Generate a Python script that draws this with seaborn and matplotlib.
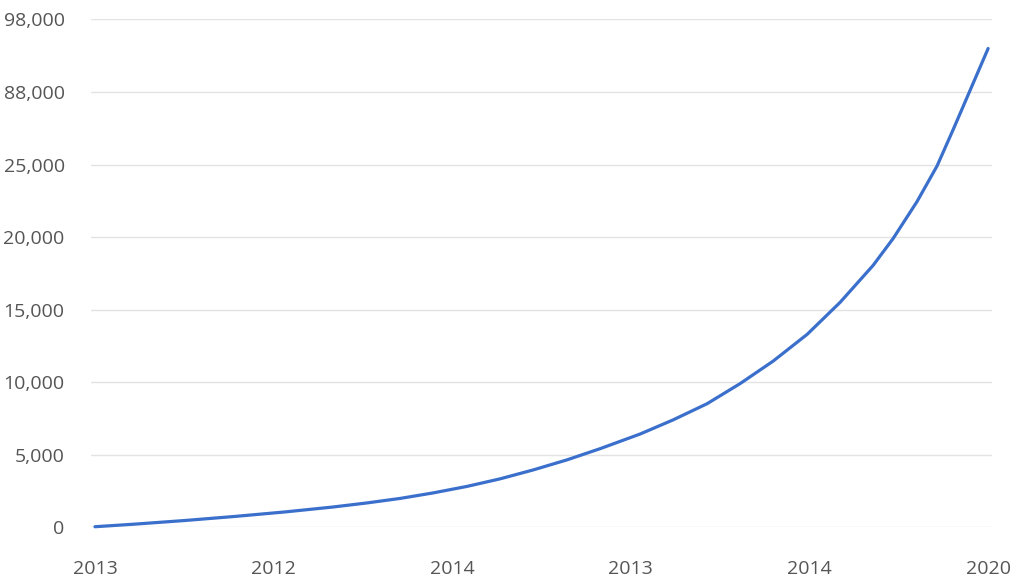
import matplotlib
matplotlib.use("Agg")
import matplotlib.pyplot as plt
import seaborn as sns
import pandas as pd

# values (x in tick units, 0..5)
x_pos = [0.0, 0.224, 0.504, 0.784, 1.064, 1.333, 1.523, 1.708, 1.893, 2.083,
         2.268, 2.452, 2.643, 2.828, 3.052, 3.236, 3.427, 3.611, 3.796, 3.987,
         4.171, 4.356, 4.468, 4.602, 4.714, 4.804, 4.888, 5.0]
values = [40, 220, 470, 750, 1060, 1400, 1680, 1990, 2370, 2820,
          3340, 3950, 4650, 5420, 6430, 7400, 8520, 9900, 11450, 13300,
          15500, 18050, 19900, 22450, 24900, 27400, 29800, 33000]

x_ticks = [0, 1, 2, 3, 4, 5]
x_labels = ['2013', '2012', '2014', '2013', '2014', '2020']
y_ticks = [0, 5000, 10000, 15000, 20000, 25000, 30000, 35000]
y_labels = ['0', '5,000', '10,000', '15,000', '20,000', '25,000', '88,000', '98,000']

df = pd.DataFrame({'x': x_pos, 'value': values})

sns.set_style("white")
plt.rcParams['font.family'] = ['Open Sans', 'DejaVu Sans']

fig = plt.figure(figsize=(10.24, 5.78), dpi=100)
ax = fig.add_axes([0.0889, 0.0877, 0.8799, 0.8786])

sns.lineplot(data=df, x='x', y='value', ax=ax, color='#3a6fcb', linewidth=2.3)
ax.lines[0].set_clip_on(False)
ax.lines[0].set_solid_capstyle('round')
ax.lines[0].set_solid_joinstyle('round')

ax.set_xlim(-0.022, 5.022)
ax.set_ylim(0, 35000)
ax.set_xticks(x_ticks)
ax.set_xticklabels(x_labels)
ax.set_yticks(y_ticks)
ax.set_yticklabels(y_labels)
ax.set_xlabel('')
ax.set_ylabel('')

ax.grid(axis='y', color='#e3e3e3', linewidth=1.0)
ax.set_axisbelow(True)
for s in ax.spines.values():
    s.set_visible(False)
ax.tick_params(axis='y', length=0, pad=19, labelsize=14, labelcolor='#555555')
ax.tick_params(axis='x', length=0, pad=23.5, labelsize=14, labelcolor='#555555')

fig.savefig('out.png', dpi=100)
plt.close(fig)
